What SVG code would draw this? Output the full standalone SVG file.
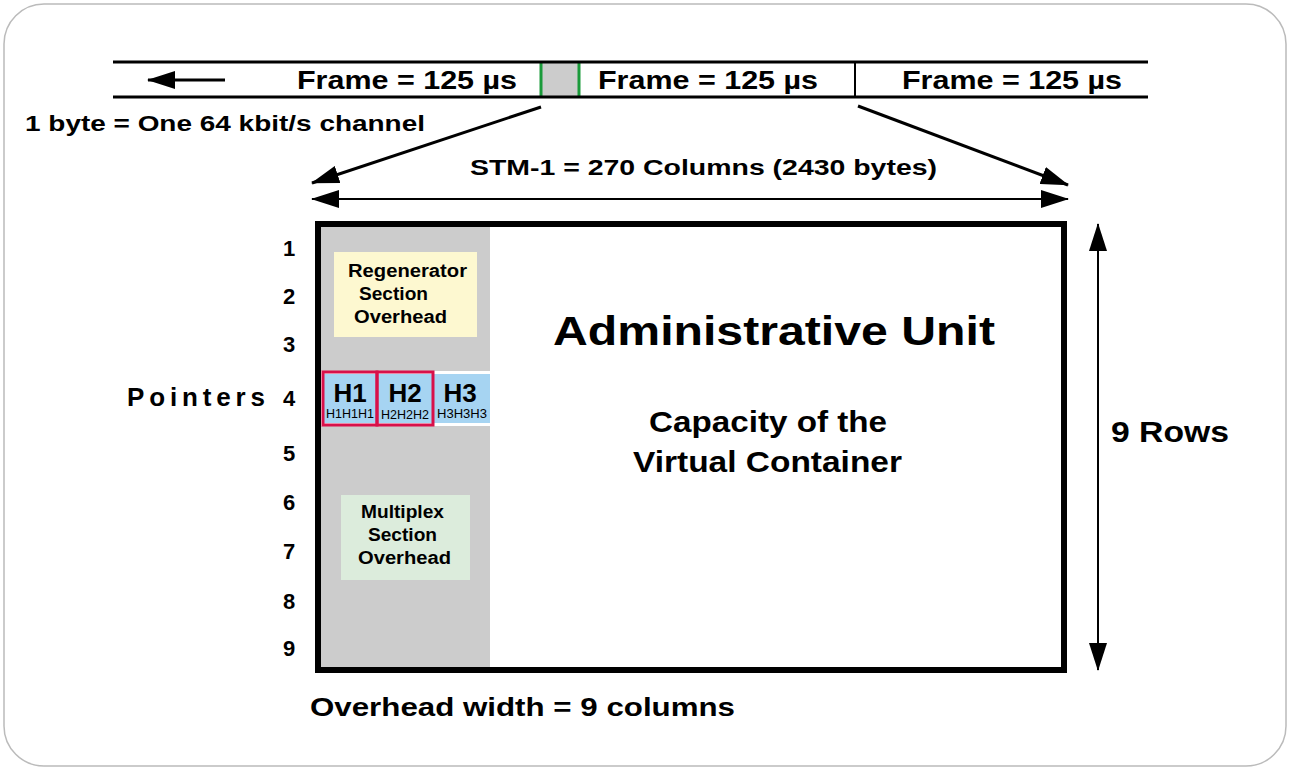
<svg xmlns="http://www.w3.org/2000/svg" width="1290" height="770" viewBox="0 0 1290 770">
<defs>
<marker id="big" markerWidth="28" markerHeight="18" refX="27" refY="9" orient="auto" markerUnits="userSpaceOnUse" viewBox="0 0 28 18"><path d="M0,0 L28,9 L0,18 z" fill="#000"/></marker>
<marker id="bigs" markerWidth="28" markerHeight="18" refX="1" refY="9" orient="auto" markerUnits="userSpaceOnUse" viewBox="0 0 28 18"><path d="M28,0 L0,9 L28,18 z" fill="#000"/></marker>
</defs>
<style>
text{font-family:"Liberation Sans",Arial,sans-serif;font-weight:bold;fill:#000}
.t26{font-size:26px}.t22{font-size:22px}.t18{font-size:18px}.t24{font-size:26px}
.sm{font-size:12px;font-weight:normal}
</style>
<rect x="4" y="4" width="1282" height="762" rx="40" fill="#fff" stroke="#bbb" stroke-width="1.5"/>
<g id="framebar">
<rect x="541" y="62" width="38" height="35" fill="#ccc"/>
<line x1="541" y1="62" x2="541" y2="97" stroke="#1a9a3a" stroke-width="3"/>
<line x1="579" y1="62" x2="579" y2="97" stroke="#1a9a3a" stroke-width="3"/>
<line x1="855" y1="62" x2="855" y2="97" stroke="#000" stroke-width="2"/>
<line x1="113" y1="62" x2="1148" y2="62" stroke="#000" stroke-width="3"/>
<line x1="113" y1="97" x2="1148" y2="97" stroke="#000" stroke-width="3"/>
<text x="297" y="89" class="t26" textLength="220" lengthAdjust="spacingAndGlyphs">Frame = 125 µs</text>
<text x="598" y="89" class="t26" textLength="220" lengthAdjust="spacingAndGlyphs">Frame = 125 µs</text>
<text x="902" y="89" class="t26" textLength="220" lengthAdjust="spacingAndGlyphs">Frame = 125 µs</text>
<text x="25" y="131" class="t22" textLength="400" lengthAdjust="spacingAndGlyphs">1 byte = One 64 kbit/s channel</text>
</g>
<g id="connectors" stroke="#000" fill="none">
<line x1="225" y1="80" x2="148" y2="80" stroke-width="3" marker-end="url(#big)"/>
<line x1="541" y1="107" x2="312" y2="183" stroke-width="3" marker-end="url(#big)"/>
<line x1="858" y1="106" x2="1068" y2="185" stroke-width="3" marker-end="url(#big)"/>
<line x1="312" y1="199" x2="1068" y2="199" stroke-width="2" marker-start="url(#bigs)" marker-end="url(#big)"/>
<line x1="1098" y1="224" x2="1098" y2="670" stroke-width="2" marker-start="url(#bigs)" marker-end="url(#big)"/>
</g>
<text x="470" y="175" class="t22" textLength="467" lengthAdjust="spacingAndGlyphs">STM-1 =  270 Columns (2430 bytes)</text>
<g id="frame">
<rect x="318" y="224" width="172" height="446" fill="#ccc"/>
<rect x="318" y="224" width="746" height="446" fill="none" stroke="#000" stroke-width="6"/>
</g>
<g id="rso">
<rect x="334" y="252" width="143" height="85" fill="#fdf8d0"/>
<text x="348" y="277" class="t18" textLength="119" lengthAdjust="spacingAndGlyphs">Regenerator</text>
<text x="359" y="300" class="t18" textLength="69" lengthAdjust="spacingAndGlyphs">Section</text>
<text x="354" y="323" class="t18" textLength="93" lengthAdjust="spacingAndGlyphs">Overhead</text>
</g>
<g id="pointers">
<rect x="321" y="371" width="169" height="55" fill="#fff"/>
<rect x="322" y="374" width="168" height="49" fill="#a6d4f2"/>
<rect x="323" y="372" width="54" height="53" fill="none" stroke="#d8104a" stroke-width="3"/>
<rect x="377" y="372" width="56" height="53" fill="none" stroke="#d8104a" stroke-width="3"/>
<text x="350" y="402" class="t24" text-anchor="middle">H1</text>
<text x="405" y="402" class="t24" text-anchor="middle">H2</text>
<text x="460" y="402" class="t24" text-anchor="middle">H3</text>
<text x="326" y="418" class="sm" textLength="48" lengthAdjust="spacingAndGlyphs">H1H1H1</text>
<text x="381" y="419" class="sm" textLength="48" lengthAdjust="spacingAndGlyphs">H2H2H2</text>
<text x="437" y="418" class="sm" textLength="50" lengthAdjust="spacingAndGlyphs">H3H3H3</text>
<text x="127" y="406" class="t26" textLength="138" lengthAdjust="spacing">Pointers</text>
</g>
<g id="mso">
<rect x="341" y="495" width="129" height="85" fill="#dcecdc"/>
<text x="361" y="518" class="t18" textLength="83" lengthAdjust="spacingAndGlyphs">Multiplex</text>
<text x="368" y="541" class="t18" textLength="69" lengthAdjust="spacingAndGlyphs">Section</text>
<text x="358" y="564" class="t18" textLength="93" lengthAdjust="spacingAndGlyphs">Overhead</text>
</g>
<g id="rows">
<text x="289" y="256" class="t22" text-anchor="middle">1</text>
<text x="289" y="304" class="t22" text-anchor="middle">2</text>
<text x="289" y="352" class="t22" text-anchor="middle">3</text>
<text x="289" y="406" class="t22" text-anchor="middle">4</text>
<text x="289" y="461" class="t22" text-anchor="middle">5</text>
<text x="289" y="510" class="t22" text-anchor="middle">6</text>
<text x="289" y="559" class="t22" text-anchor="middle">7</text>
<text x="289" y="609" class="t22" text-anchor="middle">8</text>
<text x="289" y="656" class="t22" text-anchor="middle">9</text>
</g>
<g id="au">
<text x="553" y="345" font-size="40" textLength="442" lengthAdjust="spacingAndGlyphs">Administrative Unit</text>
<text x="649" y="432" font-size="30" textLength="238" lengthAdjust="spacingAndGlyphs">Capacity of the</text>
<text x="633" y="472" font-size="30" textLength="269" lengthAdjust="spacingAndGlyphs">Virtual Container</text>
</g>
<text x="1111" y="442" font-size="30" textLength="118" lengthAdjust="spacingAndGlyphs">9 Rows</text>
<text x="310" y="716" class="t26" textLength="425" lengthAdjust="spacingAndGlyphs">Overhead width = 9 columns</text>
</svg>
